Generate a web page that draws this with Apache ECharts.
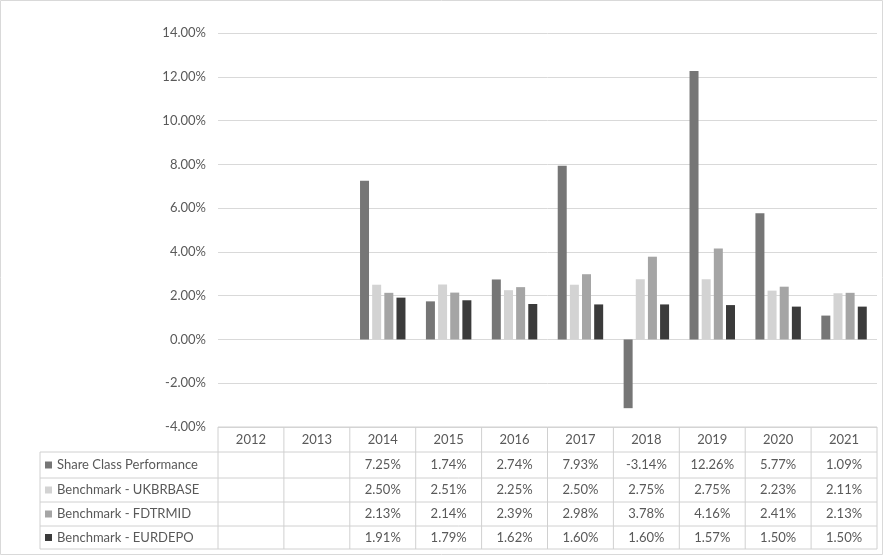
<!DOCTYPE html>
<html><head><meta charset="utf-8">
<script src="https://cdn.jsdelivr.net/npm/echarts@6/dist/echarts.min.js"></script>
<style>html,body{margin:0;padding:0;background:#fff}#c{width:883px;height:555px}</style>
</head><body><div id="c"></div>
<script>
const categories=['2012','2013','2014','2015','2016','2017','2018','2019','2020','2021'];
const seriesNames=['Share Class Performance','Benchmark - UKBRBASE','Benchmark - FDTRMID','Benchmark - EURDEPO'];
const shareClass=[null,null,7.25,1.74,2.74,7.93,-3.14,12.26,5.77,1.09];
const ukbrbase=[null,null,2.50,2.51,2.25,2.50,2.75,2.75,2.23,2.11];
const fdtrmid=[null,null,2.13,2.14,2.39,2.98,3.78,4.16,2.41,2.13];
const eurdepo=[null,null,1.91,1.79,1.62,1.60,1.60,1.57,1.50,1.50];
const colors=['#767676','#d3d3d3','#a5a5a5','#3b3b3b'];
const allData=[shareClass,ukbrbase,fdtrmid,eurdepo];

const L=218,R=877,T=33,B=427;
const chart=echarts.init(document.getElementById('c'));
const font='Lato, "Liberation Sans", Arial, sans-serif';
chart.setOption({
  animation:false,
  textStyle:{fontFamily:font},
  grid:{left:L,right:883-R,top:T,bottom:555-B},
  xAxis:{type:'category',data:categories,axisLabel:{show:false},axisTick:{show:false},
    axisLine:{show:false}},
  yAxis:{type:'value',min:-4,max:14,interval:2,
    axisLabel:{formatter:v=>v.toFixed(2)+'%',color:'#595959',fontSize:13,margin:12},
    splitLine:{lineStyle:{color:'#d9d9d9'}},axisLine:{show:false},axisTick:{show:false}},
  series:allData.map((d,i)=>({type:'bar',name:seriesNames[i],data:d,barWidth:9,barGap:'35%',
    itemStyle:{color:colors[i]}}))
});

const els=[];
const line=(x1,y1,x2,y2)=>els.push({type:'line',shape:{x1,y1,x2,y2},style:{stroke:'#d0d0d0',lineWidth:1}});
const rowY=[427,452,478,502,526,549];
const cw=(R-L)/categories.length;
els.push({type:'rect',shape:{x:0.5,y:0.5,width:882,height:554},style:{fill:'none',stroke:'#d9d9d9'}});
line(L,rowY[0],R,rowY[0]);
for(let r=1;r<rowY.length;r++) line(40,rowY[r],R,rowY[r]);
line(40,rowY[1],40,rowY[5]);
for(let c=0;c<=categories.length;c++) line(L+c*cw,rowY[0],L+c*cw,rowY[5]);
categories.forEach((c,i)=>els.push({type:'text',x:L+(i+0.5)*cw,y:(rowY[0]+rowY[1])/2,
  style:{text:c,fill:'#595959',font:'13px '+font,align:'center',verticalAlign:'middle'}}));
allData.forEach((d,r)=>{
  const yc=(rowY[r+1]+rowY[r+2])/2;
  els.push({type:'rect',shape:{x:45,y:yc-3.5,width:7,height:7},style:{fill:colors[r]}});
  els.push({type:'text',x:57,y:yc,style:{text:seriesNames[r],fill:'#595959',font:'13px '+font,verticalAlign:'middle'}});
  d.forEach((v,i)=>{ if(v!==null) els.push({type:'text',x:L+(i+0.5)*cw,y:yc,
    style:{text:v.toFixed(2)+'%',fill:'#595959',font:'13px '+font,align:'center',verticalAlign:'middle'}});});
});
chart.setOption({graphic:{elements:els}});
</script></body></html>
